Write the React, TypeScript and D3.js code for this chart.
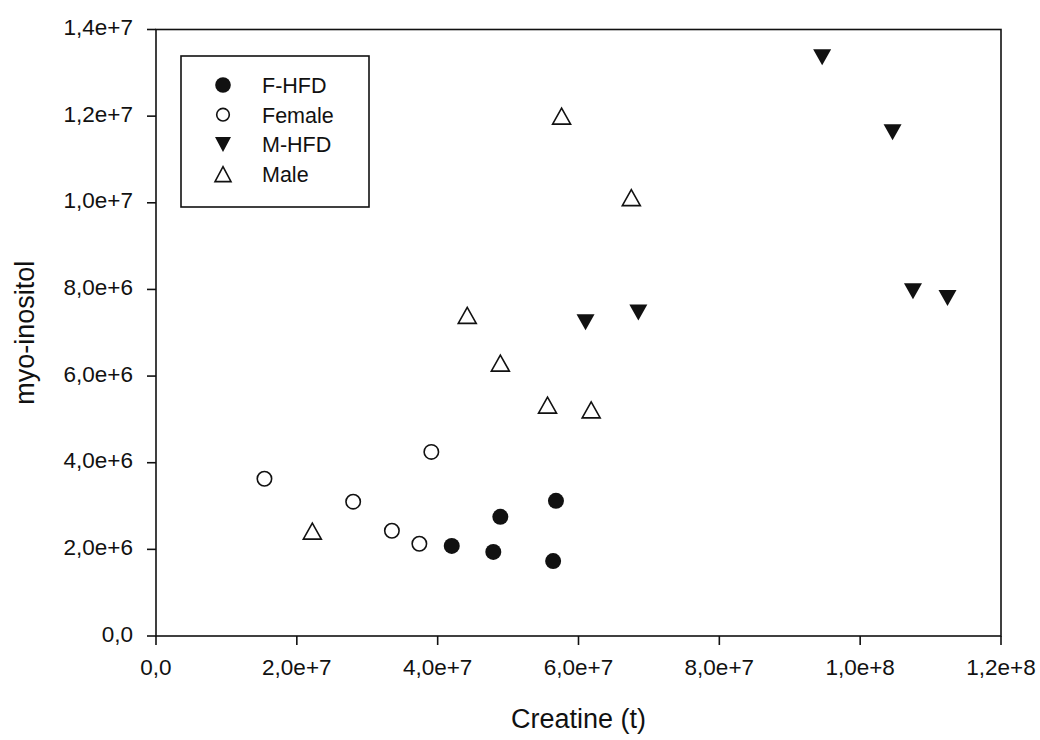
import React from "react";
import * as d3 from "d3";

const width = 1040;
const height = 740;
const margin = { top: 29.5, right: 39, bottom: 104, left: 156 };

const xTicks = [0, 2e7, 4e7, 6e7, 8e7, 1e8, 1.2e8];
const xTickLabels = ["0,0", "2,0e+7", "4,0e+7", "6,0e+7", "8,0e+7", "1,0e+8", "1,2e+8"];
const yTicks = [0, 2e6, 4e6, 6e6, 8e6, 1e7, 1.2e7, 1.4e7];
const yTickLabels = ["0,0", "2,0e+6", "4,0e+6", "6,0e+6", "8,0e+6", "1,0e+7", "1,2e+7", "1,4e+7"];

// [creatine, myo-inositol]
const fHfd = [
  [4.2e7, 2.08e6],
  [4.79e7, 1.94e6],
  [4.89e7, 2.75e6],
  [5.64e7, 1.73e6],
  [5.68e7, 3.12e6],
];
const female = [
  [1.54e7, 3.63e6],
  [2.8e7, 3.1e6],
  [3.35e7, 2.43e6],
  [3.74e7, 2.13e6],
  [3.91e7, 4.25e6],
];
const mHfd = [
  [9.46e7, 1.336e7],
  [1.046e8, 1.163e7],
  [1.075e8, 7.96e6],
  [1.124e8, 7.8e6],
  [6.1e7, 7.24e6],
  [6.85e7, 7.47e6],
];
const male = [
  [2.22e7, 2.42e6],
  [5.76e7, 1.2e7],
  [6.75e7, 1.012e7],
  [4.89e7, 6.3e6],
  [5.56e7, 5.33e6],
  [6.18e7, 5.22e6],
  [4.42e7, 7.4e6],
];

const seriesNames = ["F-HFD", "Female", "M-HFD", "Male"];
const seriesData = [fHfd, female, mHfd, male];

const font = "'Liberation Sans', Arial, sans-serif";
const ink = "#111";

const x = d3.scaleLinear().domain([0, 1.2e8]).range([margin.left, width - margin.right]);
const y = d3.scaleLinear().domain([0, 1.4e7]).range([height - margin.bottom, margin.top]);

// marker drawn around (cx, cy)
function Marker({ kind, cx, cy, small }: { kind: number; cx: number; cy: number; small?: boolean }) {
  if (kind === 0) return <circle cx={cx} cy={cy} r={small ? 7.8 : 8} fill={ink} />;
  if (kind === 1)
    return <circle cx={cx} cy={cy} r={small ? 6.3 : 7.2} fill="white" stroke={ink} strokeWidth={1.6} />;
  const hw = small ? 8 : 9;
  const hh = small ? 7.5 : 8;
  if (kind === 2) {
    const p = `M${cx - hw},${cy - hh}L${cx + hw},${cy - hh}L${cx},${cy + hh}Z`;
    return <path d={p} fill={ink} />;
  }
  const p = `M${cx},${cy - hh}L${cx + hw},${cy + hh}L${cx - hw},${cy + hh}Z`;
  return <path d={p} fill="white" stroke={ink} strokeWidth={1.6} strokeLinejoin="miter" />;
}

export default function App() {
  const x0 = x.range()[0];
  const x1 = x.range()[1];
  const y0 = y.range()[0];
  const y1 = y.range()[1];
  const tick = 9;

  return (
    <svg
      width={width}
      height={height}
      style={{ position: "absolute", left: 0, top: 0, background: "white" }}
      fontFamily={font}
    >
      <rect width={width} height={height} fill="white" />
      {/* frame */}
      <rect x={x0} y={y1} width={x1 - x0} height={y0 - y1} fill="none" stroke={ink} strokeWidth={1.6} />

      {/* x axis */}
      {xTicks.map((t, i) => (
        <g key={"xt" + i}>
          <line x1={x(t)} x2={x(t)} y1={y0} y2={y0 + tick} stroke={ink} strokeWidth={1.6} />
          <text x={x(t)} y={y0 + 39} textAnchor="middle" fontSize={22.5} fill={ink}>
            {xTickLabels[i]}
          </text>
        </g>
      ))}
      {/* y axis */}
      {yTicks.map((t, i) => (
        <g key={"yt" + i}>
          <line x1={x0 - tick} x2={x0} y1={y(t)} y2={y(t)} stroke={ink} strokeWidth={1.6} />
          <text x={133} y={y(t) + 5.5} textAnchor="end" fontSize={22.5} fill={ink}>
            {yTickLabels[i]}
          </text>
        </g>
      ))}

      <text x={(x0 + x1) / 2} y={728} textAnchor="middle" fontSize={27} fill={ink}>
        Creatine (t)
      </text>
      <text
        transform={`translate(34,${(y0 + y1) / 2}) rotate(-90)`}
        textAnchor="middle"
        fontSize={27}
        fill={ink}
      >
        myo-inositol
      </text>

      {/* points */}
      {seriesData.map((s, k) =>
        s.map((d, i) => <Marker key={k + "-" + i} kind={k} cx={x(d[0])} cy={y(d[1])} />)
      )}

      {/* legend */}
      <rect x={181} y={56} width={188} height={151} fill="white" stroke={ink} strokeWidth={1.6} />
      {seriesNames.map((name, i) => (
        <g key={name}>
          <Marker kind={i} cx={223} cy={85 + i * 29.7} small />
          <text x={262} y={93 + i * 29.7} fontSize={21.5} fill={ink}>
            {name}
          </text>
        </g>
      ))}
    </svg>
  );
}
